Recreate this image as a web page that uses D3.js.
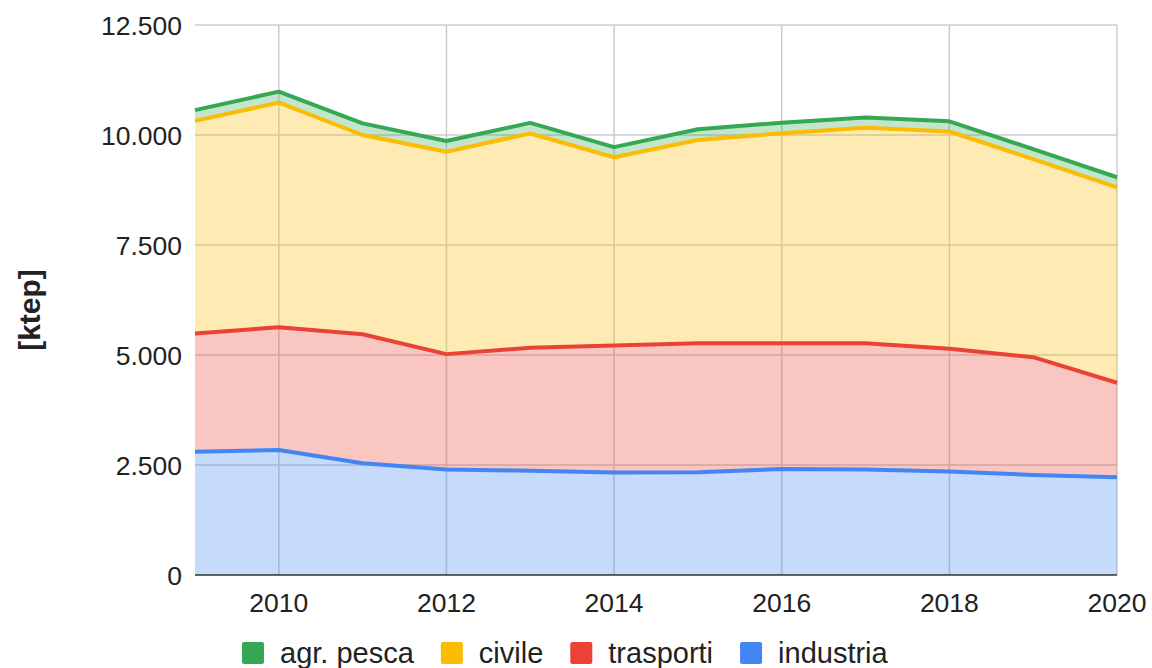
<!DOCTYPE html>
<meta charset="utf-8">
<style>
    body { margin: 0; background: #fff; }
    text { font-family: "Liberation Sans", Arial, sans-serif; }
</style>
<svg id="svg" width="1152" height="668"></svg>
<script src="https://d3js.org/d3.v7.min.js"></script>
<script>

    // data (ktep)
    var years     = [2009, 2010, 2011, 2012, 2013, 2014, 2015, 2016, 2017, 2018, 2019, 2020];
    var industria = [2800, 2840, 2540, 2400, 2370, 2330, 2335, 2410, 2395, 2350, 2275, 2220];
    var trasporti = [2690, 2790, 2930, 2620, 2795, 2885, 2930, 2855, 2870, 2790, 2675, 2150];
    var civile    = [4830, 5105, 4530, 4600, 4870, 4280, 4620, 4775, 4900, 4940, 4500, 4440];
    var agrPesca  = [245, 250, 265, 245, 240, 230, 245, 240, 235, 230, 230, 230];

    var yTicks = [0, 2500, 5000, 7500, 10000, 12500];
    var xTicks = [2010, 2012, 2014, 2016, 2018, 2020];

    // stack order bottom -> top, legend order is the reverse
    var series = [
        {key: "industria", name: "industria", color: "#4285F4", values: industria},
        {key: "trasporti", name: "trasporti", color: "#EA4335", values: trasporti},
        {key: "civile", name: "civile", color: "#FBBC04", values: civile},
        {key: "agr", name: "agr. pesca", color: "#34A853", values: agrPesca}
    ];

    var svg = d3.select("svg");

    // plot box (note: "top" is taken by window.top, so use other names)
    var plotL = 195, plotR = 1117, plotT = 25, plotB = 575;

    var x = d3.scaleLinear().domain([2009, 2020]).range([plotL, plotR]);
    var y = d3.scaleLinear().domain([0, 12500]).range([plotB, plotT]);

    var it = d3.formatLocale({decimal: ",", thousands: ".", grouping: [3], currency: ["", "€"]});
    var fmt = it.format(",");

    // table for the stack
    var rows = years.map(function (yr, i) {
        var r = {year: yr};
        series.forEach(function (s) { r[s.key] = s.values[i]; });
        return r;
    });
    var stacked = d3.stack().keys(series.map(function (s) { return s.key; }))(rows);

    // grid
    var grid = svg.append("g");
    grid.selectAll("line.h")
        .data(yTicks.filter(function (d) { return d > 0; }))
        .enter().append("line")
        .attr("x1", plotL).attr("x2", plotR)
        .attr("y1", function (d) { return y(d); })
        .attr("y2", function (d) { return y(d); })
        .attr("stroke", "#cccccc").attr("stroke-width", 1.5);
    grid.selectAll("line.v")
        .data(xTicks)
        .enter().append("line")
        .attr("x1", function (d) { return x(d); })
        .attr("x2", function (d) { return x(d); })
        .attr("y1", plotT).attr("y2", plotB)
        .attr("stroke", "#cccccc").attr("stroke-width", 1.5);

    var area = d3.area()
        .x(function (d) { return x(d.data.year); })
        .y0(function (d) { return y(d[0]); })
        .y1(function (d) { return y(d[1]); });

    var line = d3.line()
        .x(function (d) { return x(d.data.year); })
        .y(function (d) { return y(d[1]); });

    var layers = svg.append("g");
    layers.selectAll("path.area")
        .data(stacked)
        .enter().append("path")
        .attr("d", area)
        .attr("fill", function (d, i) { return series[i].color; })
        .attr("fill-opacity", 0.3);

    layers.selectAll("path.line")
        .data(stacked)
        .enter().append("path")
        .attr("d", line)
        .attr("fill", "none")
        .attr("stroke", function (d, i) { return series[i].color; })
        .attr("stroke-width", 4)
        .attr("stroke-linejoin", "round");

    // baseline
    svg.append("line")
        .attr("x1", plotL).attr("x2", plotR)
        .attr("y1", y(0)).attr("y2", y(0))
        .attr("stroke", "#333").attr("stroke-width", 1.5);

    // y labels
    svg.append("g").selectAll("text")
        .data(yTicks)
        .enter().append("text")
        .attr("x", 182)
        .attr("y", function (d) { return y(d); })
        .attr("dy", "0.36em")
        .attr("text-anchor", "end")
        .attr("font-size", 26.5)
        .attr("fill", "#222")
        .text(function (d) { return fmt(d); });

    // x labels
    svg.append("g").selectAll("text")
        .data(xTicks)
        .enter().append("text")
        .attr("x", function (d) { return x(d); })
        .attr("y", 612)
        .attr("text-anchor", "middle")
        .attr("font-size", 26.5)
        .attr("fill", "#222")
        .text(function (d) { return d; });

    // axis title
    svg.append("text")
        .attr("transform", "translate(40,310) rotate(-90)")
        .attr("text-anchor", "middle")
        .attr("font-size", 30)
        .attr("font-weight", "bold")
        .attr("fill", "#222")
        .text("[ktep]");

    // legend
    var legend = svg.append("g");
    var lx = 242;
    series.slice().reverse().forEach(function (s) {
        legend.append("rect")
            .attr("x", lx).attr("y", 642)
            .attr("width", 22).attr("height", 22)
            .attr("rx", 2)
            .attr("fill", s.color);
        var t = legend.append("text")
            .attr("x", lx + 38).attr("y", 663)
            .attr("font-size", 29)
            .attr("fill", "#222")
            .text(s.name);
        lx += 38 + t.node().getComputedTextLength() + 27;
    });

</script>
